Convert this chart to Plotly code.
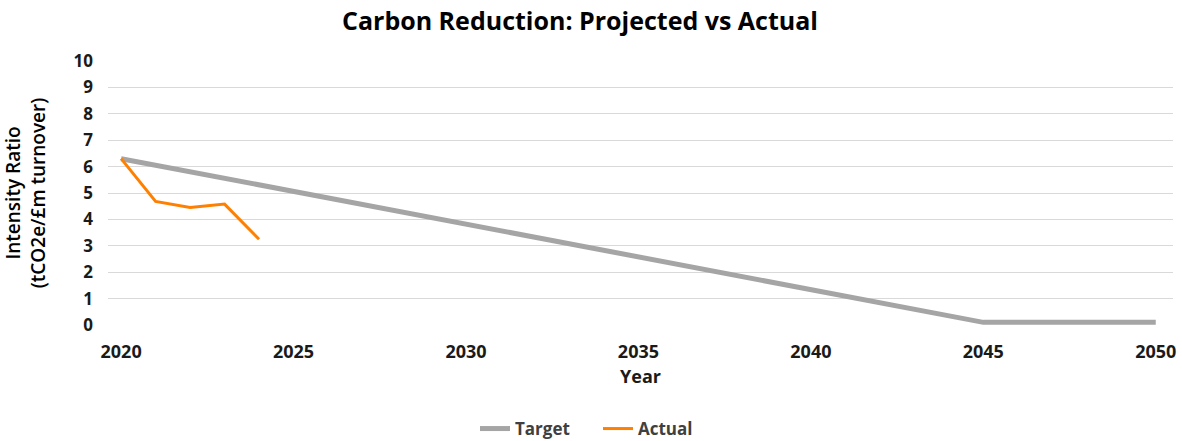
import plotly.graph_objects as go

target_years = [2020, 2045, 2050]
target_values = [6.3, 0.1, 0.1]
actual_years = [2020, 2021, 2022, 2023, 2024]
actual_values = [6.3, 4.68, 4.45, 4.58, 3.25]
x_ticks = [2020, 2025, 2030, 2035, 2040, 2045, 2050]
y_ticks = list(range(0, 11))

FONT = "Open Sans"
W, H = 1182, 441

fig = go.Figure()
fig.add_trace(go.Scatter(x=target_years, y=target_values, mode="lines", name="Target",
                         line=dict(color="#A5A5A5", width=5), legend="legend"))
fig.add_trace(go.Scatter(x=actual_years, y=actual_values, mode="lines", name="Actual",
                         line=dict(color="#FF8000", width=3), legend="legend2"))

legend_font = dict(size=17, family=FONT, color="#404040", weight="bold")

fig.update_layout(
    width=W, height=H,
    margin=dict(l=108, r=9, t=61, b=116, autoexpand=False),
    paper_bgcolor="white", plot_bgcolor="white",
    font=dict(family=FONT, color="#000000"),
    title=dict(text="<b>Carbon Reduction: Projected vs Actual</b>", x=580 / W, xanchor="center",
               y=1 - 21 / H, yanchor="middle",
               font=dict(size=25, family=FONT, color="#000000")),
    xaxis=dict(range=[2019.62, 2050.5], tickvals=x_ticks, showgrid=False, zeroline=False,
               showline=False, ticks="", ticklabelstandoff=14, automargin=False,
               tickfont=dict(size=18, family=FONT, color="#1a1a1a", weight="bold"),
               title=dict(text="<b>Year</b>", font=dict(size=18, family=FONT, color="#1a1a1a"), standoff=8)),
    yaxis=dict(range=[0, 10], tickvals=y_ticks, showgrid=True, gridcolor="#D9D9D9", gridwidth=1,
               zeroline=False, showline=False, ticks="", ticklabelstandoff=14, automargin=False,
               tickfont=dict(size=17, family=FONT, color="#1a1a1a", weight="bold"),
               title=dict(text="Intensity Ratio<br>(tCO2e/£m turnover)",
                          font=dict(size=19, family=FONT, color="#000000", weight=600), standoff=24)),
    legend=dict(orientation="h", xref="container", x=475 / W, xanchor="left",
                yref="container", y=1 - 429 / H, yanchor="middle",
                font=legend_font, bgcolor="rgba(0,0,0,0)"),
    legend2=dict(orientation="h", xref="container", x=598 / W, xanchor="left",
                 yref="container", y=1 - 429 / H, yanchor="middle",
                 font=legend_font, bgcolor="rgba(0,0,0,0)"),
    showlegend=True,
)

fig.write_html("out.html", config={"displayModeBar": False},
               post_script="document.body.style.margin='0';")
